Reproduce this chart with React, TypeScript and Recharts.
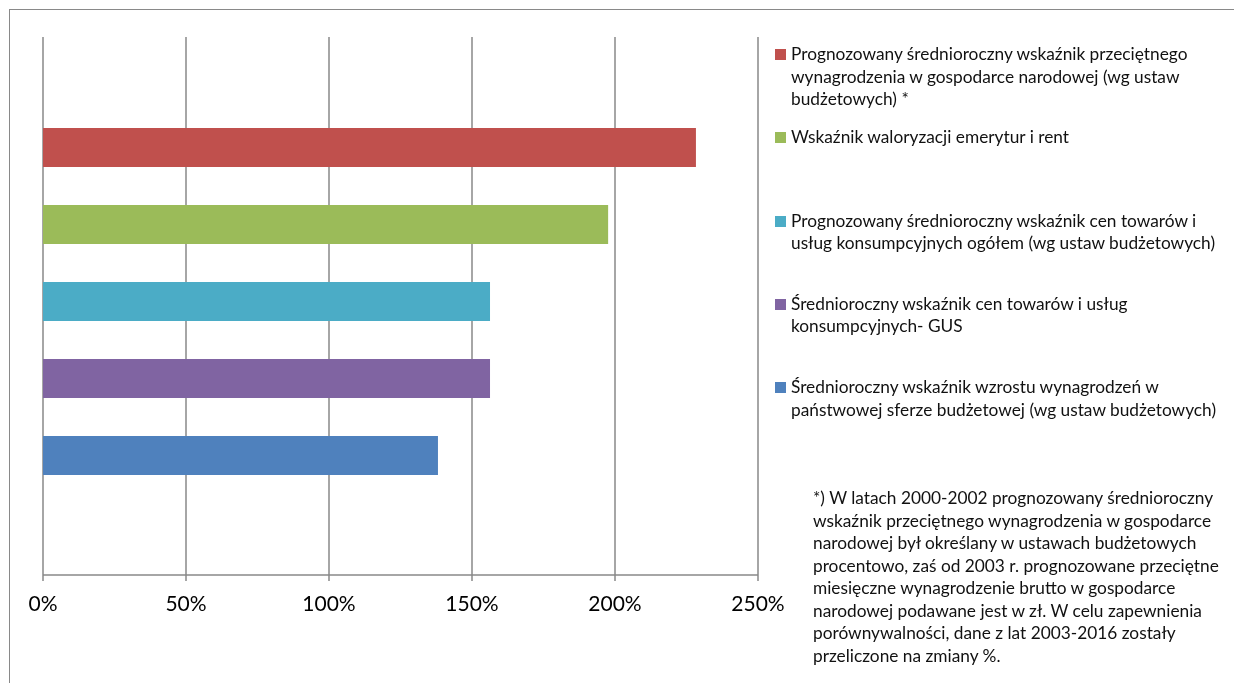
import { Bar, BarChart, CartesianGrid, Legend, XAxis, YAxis } from "recharts";

// series, top to bottom as drawn
const seriesKeys = ["s1", "s2", "s3", "s4", "s5"];
const seriesNames = [
  "Prognozowany średnioroczny wskaźnik przeciętnego\nwynagrodzenia w gospodarce narodowej (wg ustaw\nbudżetowych) *",
  "Wskaźnik waloryzacji emerytur i rent",
  "Prognozowany średnioroczny wskaźnik cen towarów i\nusług konsumpcyjnych ogółem (wg ustaw budżetowych)",
  "Średnioroczny wskaźnik cen towarów i usług\nkonsumpcyjnych- GUS",
  "Średnioroczny wskaźnik wzrostu wynagrodzeń w\npaństwowej sferze budżetowej (wg ustaw budżetowych)",
];
const seriesValues = [228.3, 197.6, 156.3, 156.3, 138.1];
const seriesColors = ["#C0504D", "#9BBB59", "#4BACC6", "#8064A2", "#4F81BD"];

const xTicks = [0, 50, 100, 150, 200, 250];

const footnoteLines = [
  "*) W latach 2000-2002 prognozowany średnioroczny",
  "wskaźnik przeciętnego wynagrodzenia w gospodarce",
  "narodowej był określany w ustawach budżetowych",
  "procentowo, zaś od 2003 r. prognozowane przeciętne",
  "miesięczne wynagrodzenie brutto w gospodarce",
  "narodowej podawane jest w zł. W celu zapewnienia",
  "porównywalności, dane z lat 2003-2016 zostały",
  "przeliczone na zmiany %.",
];

const row: Record<string, number | string> = { name: "2000-2016" };
seriesKeys.forEach((k, i) => {
  row[k] = seriesValues[i];
});
const data = [row];

const FONT = "Lato, 'Open Sans', sans-serif";
const GRID = "#898989";

function LegendBlock() {
  return (
    <div style={{ fontFamily: FONT, fontSize: 17.3, color: "#111", lineHeight: "22.5px" }}>
      {seriesNames.map((name, i) => (
        <div key={name} style={{ position: "relative", height: 83.3 }}>
          <span
            style={{
              position: "absolute",
              left: 0,
              top: 6,
              width: 11,
              height: 11,
              background: seriesColors[i],
            }}
          />
          <div style={{ marginLeft: 16, whiteSpace: "pre" }}>{name}</div>
        </div>
      ))}
    </div>
  );
}

export default function App() {
  return (
    <div style={{ position: "relative", width: 1218, height: 660 }}>
      <div
        style={{
          position: "fixed",
          left: 9,
          top: 9,
          right: 0,
          bottom: 0,
          borderLeft: `1px solid ${GRID}`,
          borderTop: `1px solid ${GRID}`,
          pointerEvents: "none",
        }}
      />
      <BarChart
        width={1218}
        height={640}
        data={data}
        layout="vertical"
        barGap={38}
        margin={{ top: 29, right: 468, left: 35, bottom: 33 }}
      >
        <CartesianGrid horizontal={false} stroke={GRID} strokeWidth={1.5} />
        <XAxis
          type="number"
          domain={[0, 250]}
          ticks={xTicks}
          interval={0}
          tickFormatter={(v: number) => `${v}%`}
          height={40}
          stroke={GRID}
          strokeWidth={1.5}
          tickSize={6}
          tickMargin={15}
          tick={{ fill: "#000", fontSize: 21, fontFamily: FONT }}
        />
        <YAxis type="category" dataKey="name" hide padding={{ top: 0, bottom: 9 }} />
        {seriesKeys.map((k, i) => (
          <Bar
            key={k}
            dataKey={k}
            name={seriesNames[i]}
            fill={seriesColors[i]}
            barSize={39}
            isAnimationActive={false}
          />
        ))}
        <Legend
          layout="vertical"
          align="center"
          verticalAlign="middle"
          wrapperStyle={{ left: 767, top: 35, width: 450 }}
          content={() => <LegendBlock />}
        />
      </BarChart>
      <div
        style={{
          position: "absolute",
          left: 805,
          top: 479,
          fontFamily: FONT,
          fontSize: 17.3,
          lineHeight: "22.5px",
          color: "#111",
          whiteSpace: "pre",
        }}
      >
        {footnoteLines.map((l) => (
          <div key={l}>{l}</div>
        ))}
      </div>
    </div>
  );
}
